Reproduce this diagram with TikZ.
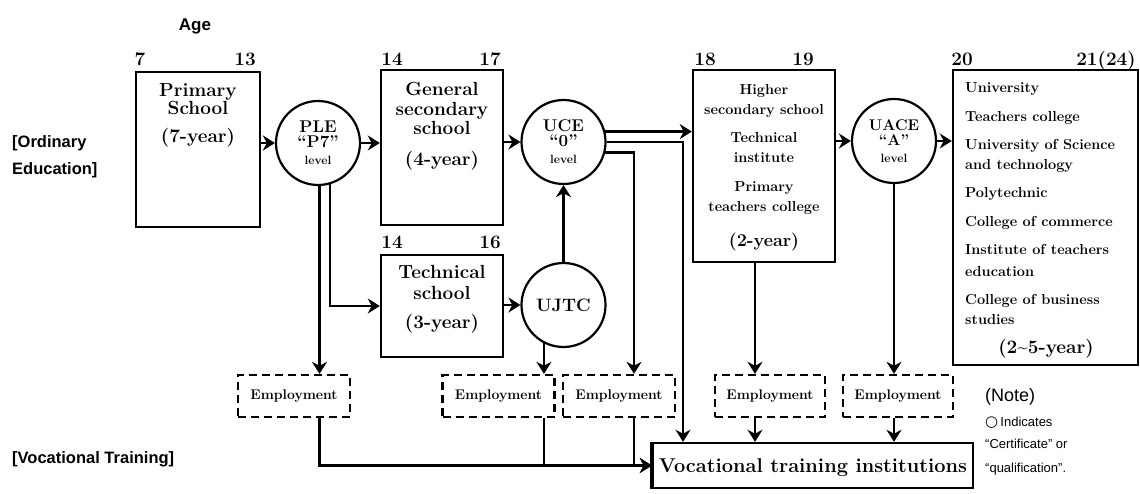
\documentclass[tikz,border=0pt]{standalone}
\usepackage{fontspec}
\newfontfamily\sansf{Liberation Sans}
\newfontfamily\symf{DejaVu Sans}
\usetikzlibrary{arrows.meta,calc}
\begin{document}
\begin{tikzpicture}[x=1pt,y=-1pt,
 box/.style={draw, line width=2.4pt, inner sep=0pt},
 cert/.style={draw, circle, line width=2.2pt, minimum size=84pt, inner sep=0pt, align=center, font=\fontsize{17}{15}\selectfont\bfseries},
 emp/.style={draw, line width=2.3pt, dash pattern=on 8pt off 5pt, minimum width=112pt, minimum height=42pt, inner sep=0pt, font=\fontsize{14}{14}\selectfont\bfseries},
 arr/.style={line width=2.6pt, -{Stealth[length=12pt,width=15pt]}},
 wire/.style={line width=2.6pt},
 tx/.style={inner sep=0pt, anchor=base},
 big/.style={tx, font=\fontsize{19}{19}\selectfont\bfseries},
 mid/.style={tx, font=\fontsize{14.5}{16}\selectfont\bfseries},
 lst/.style={tx, anchor=base west, font=\fontsize{14.5}{16}\selectfont\bfseries},
 agen/.style={tx, font=\fontsize{19}{19}\selectfont\bfseries},
 sfl/.style={tx, anchor=base west, font=\sansf\bfseries\fontsize{16.5}{16}\selectfont},
 note/.style={tx, anchor=base west, font=\sansf\fontsize{13}{13}\selectfont},
]
\useasboundingbox (0,0) rectangle (1140,494);

% boxes
\node[box, minimum width=124pt, minimum height=155pt] (prim) at (198,149.5) {};
\node[box, minimum width=122pt, minimum height=155pt] (gen) at (442,147.5) {};
\node[box, minimum width=122pt, minimum height=102pt] (tech) at (442,306) {};
\node[box, minimum width=142pt, minimum height=192pt] (high) at (764,166) {};
\node[box, minimum width=185pt, minimum height=295pt] (univ) at (1045.5,217.5) {};
\node[box, minimum width=320pt, minimum height=45pt] (voc) at (813,465.5) {};
\draw[line width=4pt] (voc.north west) -- (voc.south west);

% certificates
\node[cert] (ple) at (318,143) {PLE\\“P7”\\[2pt]{\fontsize{12}{12}\selectfont level}};
\node[cert] (uce) at (563.5,142) {UCE\\“0”\\[2pt]{\fontsize{12}{12}\selectfont level}};
\node[cert, font=\fontsize{18}{18}\selectfont\bfseries] (ujtc) at (563.5,305) {UJTC};
\node[cert, font=\fontsize{15.5}{15}\selectfont\bfseries] (uace) at (894,141) {UACE\\“A”\\[2pt]{\fontsize{12}{12}\selectfont level}};

% employment
\node[emp] (e1) at (294,396) {Employment};
\node[emp] (e2) at (498.5,396) {Employment};
\node[emp] (e3) at (619,396) {Employment};
\node[emp, minimum width=110pt] (e4) at (770,396) {Employment};
\node[emp, minimum width=110pt] (e5) at (898,396) {Employment};

% junction coordinates
\coordinate (ja) at (683,142);
\coordinate (jb) at (634,152);
\coordinate (jc) at (755,0);

% connectors
\draw[arr] (prim.east |- ple) -- (ple);
\draw[arr] (ple) -- (gen.west |- ple);
\draw[arr] (gen.east |- uce) -- (uce);
\draw[arr] (uce.14) -- (uce.14 -| high.west);
\draw[arr] (uce.east) -- (ja) -- (ja |- voc.north);
\draw[arr] (uce.-14) -- (uce.-14 -| jb) -- (jb |- e3.north);
\draw[arr] (ujtc) -- (uce);
\draw[arr] (tech.east |- ujtc) -- (ujtc);
\draw[arr] (ujtc.-117) -- (ujtc.-117 |- e2.north);
\draw[arr] (ple.-88) -- (ple.-88 |- e1.north);
\draw[arr] (ple.-74) -- (ple.-74 |- tech.west) -- (tech.west);
\draw[arr] (ple.-88 |- e1.south) -- (ple.-88 |- voc.west) -- (voc.west);
\draw[wire] (ujtc.-117 |- e2.south) -- (ujtc.-117 |- voc.west);
\draw[arr] (jb |- e3.south) -- (jb |- voc.west) -- (voc.west);
\draw[arr] (high.south -| jc) -- (jc |- e4.north);
\draw[arr] (jc |- e4.south) -- (jc |- voc.north);
\draw[arr] (uace) -- (uace |- e5.north);
\draw[arr] (uace |- e5.south) -- (uace |- voc.north);
\draw[arr] (high.east |- uace) -- (uace);
\draw[arr] (uace) -- (univ.west |- uace);

% ages
\node[tx, font=\sansf\bfseries\fontsize{17}{17}\selectfont] (age) at (195,31) {Age};
\node[agen] (a7) at (140,66) {7};
\node[agen] (a13) at (245,66) {13};
\node[agen] (a14) at (392,66) {14};
\node[agen] (a17) at (490,66) {17};
\node[agen] (a18) at (705,66) {18};
\node[agen] (a19) at (803,66) {19};
\node[agen] (a20) at (962,66) {20};
\node[agen] (a21) at (1106,66) {21(24)};
\node[agen] (b14) at (392,249) {14};
\node[agen] (b16) at (490,249) {16};

% box texts
\node[big] (p1) at (198,97) {Primary};
\node[big] (p2) at (198,115) {School};
\node[big] (p3) at (198,143) {(7-year)};
\node[big] (g1) at (442,96) {General};
\node[big] (g2) at (442,116) {secondary};
\node[big] (g3) at (442,135) {school};
\node[big] (g4) at (442,166) {(4-year)};
\node[big] (t1) at (442,279) {Technical};
\node[big] (t2) at (442,299) {school};
\node[big] (t3) at (442,328) {(3-year)};

\node[mid] (h1) at (764,94.5) {Higher};
\node[mid] (h2) at (764,114.5) {secondary school};
\node[mid] (h3) at (764,142.5) {Technical};
\node[mid] (h4) at (764,162.5) {institute};
\node[mid] (h5) at (764,191.5) {Primary};
\node[mid] (h6) at (764,211.5) {teachers college};
\node[tx, font=\fontsize{18}{18}\selectfont\bfseries] (h7) at (764,247) {(2-year)};

\node[lst] (u1) at (965,92.5) {University};
\node[lst] (u2) at (965,121.5) {Teachers college};
\node[lst] (u3) at (965,149.5) {University of Science};
\node[lst] (u4) at (965,169.5) {and technology};
\node[lst] (u5) at (965,197.5) {Polytechnic};
\node[lst] (u6) at (965,226.5) {College of commerce};
\node[lst] (u7) at (965,254.5) {Institute of teachers};
\node[lst] (u8) at (965,276.5) {education};
\node[lst] (u9) at (965,304.5) {College of business};
\node[lst] (u10) at (965,324.5) {studies};
\node[tx, font=\fontsize{19}{19}\selectfont\bfseries] (u11) at (1046,353) {(2\textasciitilde5-year)};

\node[tx, font=\fontsize{20}{20}\selectfont\bfseries] (vt) at (813,472) {Vocational training institutions};

% side labels
\node[sfl] (o1) at (12,148) {[Ordinary};
\node[sfl] (o2) at (12,175) {Education]};
\node[sfl] (v1) at (12,463) {[Vocational Training]};

% note
\node[tx, anchor=base west, font=\sansf\fontsize{18}{18}\selectfont] (n1) at (985,401) {(Note)};
\node[note] (n2) at (985,426) {{\symf\fontsize{15}{15}\selectfont ○}\,Indicates};
\node[note] (n3) at (985,448) {“Certificate” or};
\node[note] (n4) at (985,472) {“qualification”.};
\end{tikzpicture}
\end{document}
